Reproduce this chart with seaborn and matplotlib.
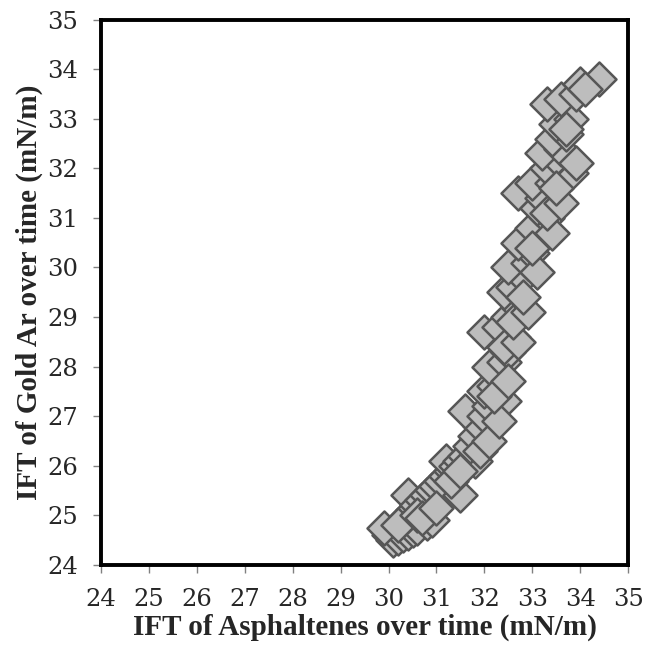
import pandas as pd
import matplotlib
matplotlib.use("Agg")
import matplotlib.pyplot as plt
import seaborn as sns

# IFT readings (mN/m)
ift_asphaltenes = [30.0, 30.1, 30.2, 30.3, 30.4, 30.5, 30.6, 30.8, 30.9, 30.3,
                   30.4, 30.5, 30.4, 30.6, 30.7, 30.8, 30.9, 31.0, 31.1, 31.5,
                   31.2, 31.3, 31.2, 31.4, 31.5, 31.6, 31.8, 31.7, 31.8, 31.9,
                   31.6, 32.0, 32.1, 32.4, 32.0, 32.2, 32.3, 32.1, 32.4, 32.5,
                   32.6, 32.0, 32.3, 32.5, 32.7, 32.4, 32.6, 32.8, 32.5, 32.9,
                   33.0, 32.7, 33.2, 33.0, 33.3, 32.7, 33.1, 33.2, 33.0, 33.4,
                   33.8, 33.3, 33.5, 33.2, 33.6, 33.4, 33.7, 33.5, 33.8, 33.3,
                   33.6, 33.9, 34.0, 34.4, 34.1,
                   29.9, 30.2, 30.6, 30.7, 31.0, 31.3, 31.5, 31.9, 32.1, 32.3,
                   32.2, 32.5, 32.4, 32.7, 32.6, 32.9, 32.8, 33.1, 33.0, 33.4,
                   33.3, 33.6, 33.5, 33.9, 33.7]
ift_gold_ar = [24.6, 24.5, 24.55, 24.6, 24.65, 24.7, 24.75, 24.85, 24.9, 24.9,
               25.0, 25.1, 25.4, 25.2, 25.3, 25.4, 25.5, 25.6, 25.7, 25.4,
               25.8, 25.9, 26.1, 26.0, 26.1, 26.2, 26.1, 26.4, 26.6, 26.8,
               27.1, 27.0, 27.2, 27.3, 27.5, 27.6, 27.8, 28.0, 28.1, 28.3,
               28.6, 28.7, 28.8, 29.0, 29.2, 29.5, 29.6, 29.8, 30.0, 30.1,
               30.3, 30.5, 30.6, 30.8, 31.0, 31.5, 31.2, 31.4, 31.7, 31.7,
               31.9, 32.0, 32.2, 32.3, 32.4, 32.6, 32.7, 32.9, 33.0, 33.3,
               33.4, 33.5, 33.7, 33.8, 33.6,
               24.75, 24.8, 25.0, 24.95, 25.15, 25.7, 25.9, 26.3, 26.5, 26.9,
               27.4, 27.7, 28.4, 28.5, 28.9, 29.1, 29.4, 29.9, 30.4, 30.7,
               31.1, 31.3, 31.6, 32.1, 32.8]
ticks = list(range(24, 36))

df = pd.DataFrame({"asph": ift_asphaltenes, "gold": ift_gold_ar})

sns.set_style("white")
plt.rcParams['font.family'] = ['DejaVu Serif']

fig = plt.figure(figsize=(6.47, 6.56), dpi=100)
ax = fig.add_axes([0.156, 0.139, 0.815, 0.831])

sns.scatterplot(data=df, x="asph", y="gold", marker="D", s=300,
                color="#bdbdbd", edgecolor="#565656", linewidth=1.8, ax=ax, zorder=3)

ax.set_xlim(24, 35)
ax.set_ylim(24, 35)
ax.set_xticks(ticks)
ax.set_yticks(ticks)
ax.tick_params(axis="both", labelsize=17.5, length=5.5, width=1, color="#808080",
               direction="out", left=True, bottom=True, pad=11)
for side in ["left", "right", "top", "bottom"]:
    ax.spines[side].set_color("black")
    ax.spines[side].set_linewidth(2.8)

label_font = dict(family="Liberation Serif", fontsize=21, fontweight="bold")
ax.set_xlabel("IFT of Asphaltenes over time (mN/m)", labelpad=2, **label_font)
ax.set_ylabel("IFT of Gold Ar over time (mN/m)", labelpad=3, **label_font)

fig.savefig("out.png", dpi=100)
